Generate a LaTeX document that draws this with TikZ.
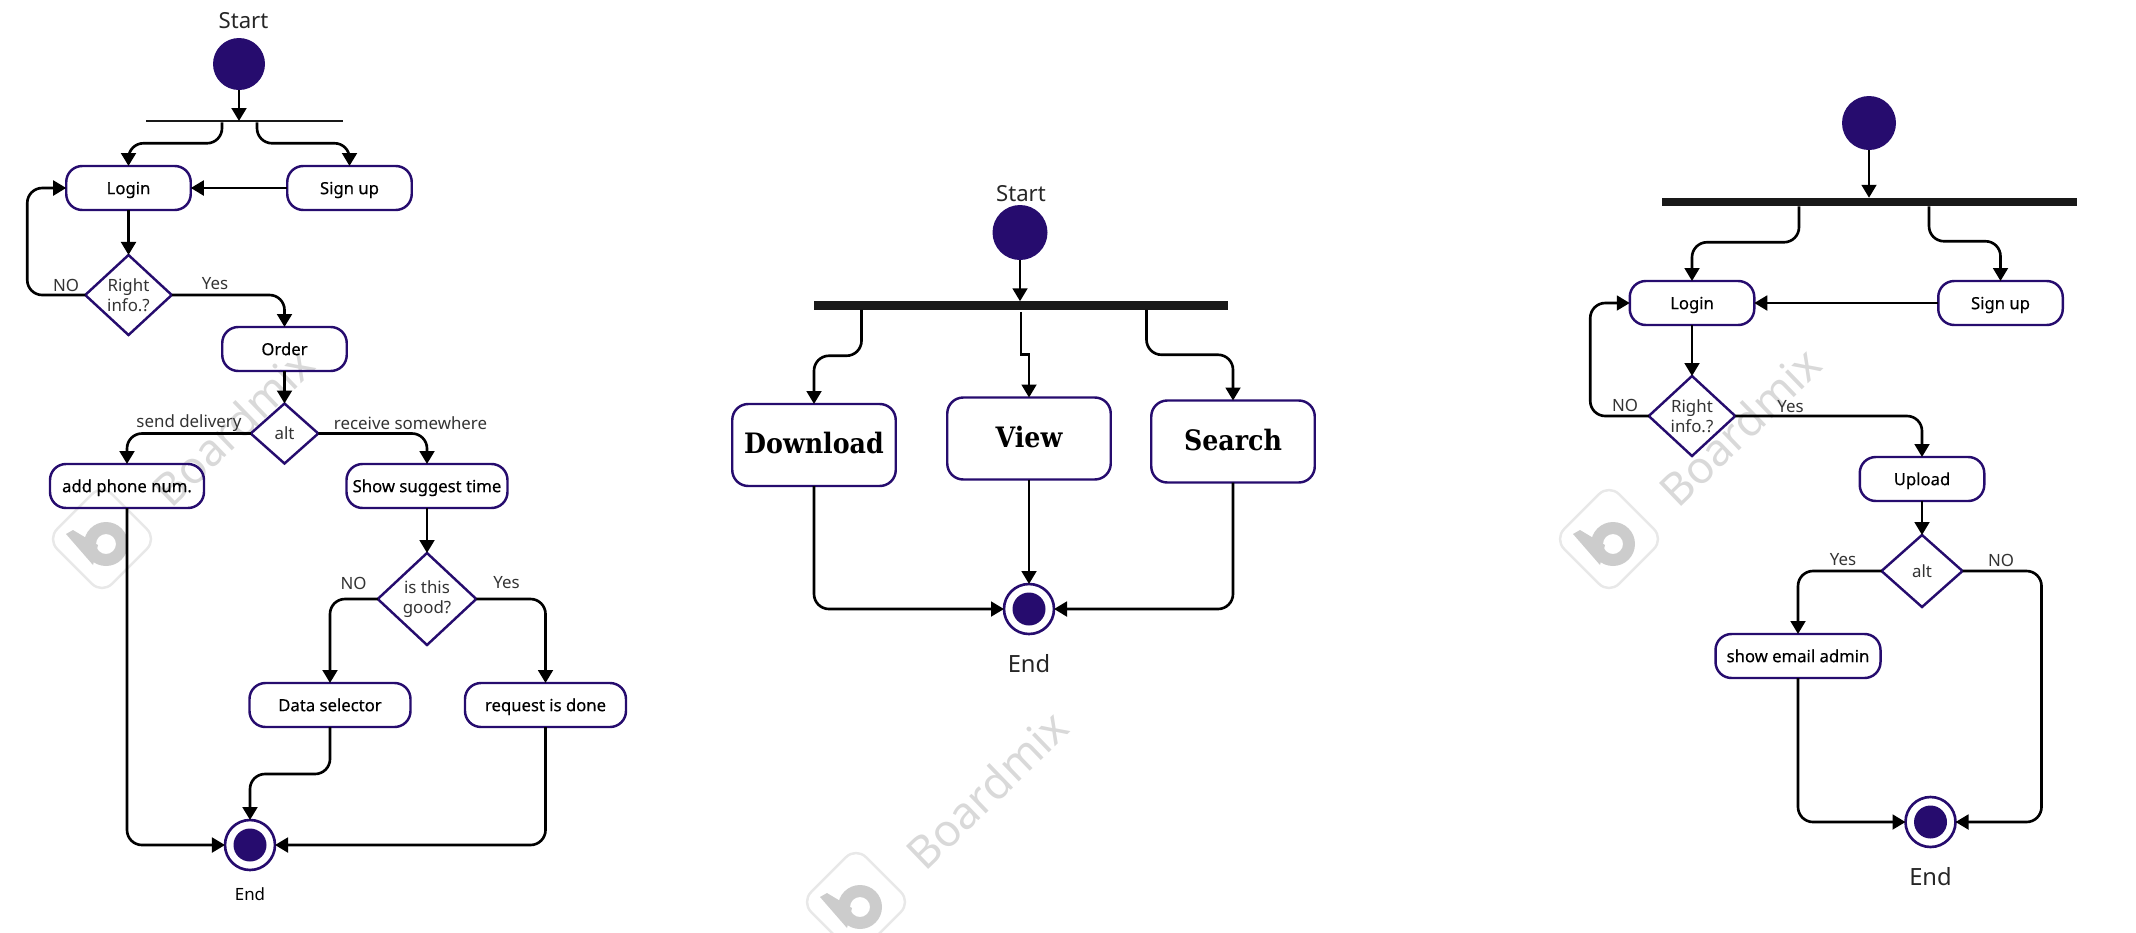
\documentclass[tikz,border=0pt]{standalone}
\usepackage{fontspec}
\setmainfont{Noto Sans}
\newfontfamily\boxfont[FakeBold=0.35]{Noto Sans}
\newfontfamily\slabfont{DejaVu Serif Condensed}
\usepackage{tikz}
\usetikzlibrary{positioning, shapes.geometric, arrows.meta}
\definecolor{ink}{HTML}{260C6E}
\definecolor{markgray}{HTML}{D9D9D9}
\tikzset{S/.style={circle, fill=ink, inner sep=0pt, outer sep=0pt, minimum size=1.08cm}}
\tikzset{Z/.style={circle, draw=ink, line width=1.5pt, inner sep=0pt, outer sep=0pt, minimum size=1cm,
    path picture={\fill[ink] (path picture bounding box.center) circle (0.33);}}}
\tikzset{A/.style={draw=ink, line width=1.4pt, rounded corners=0.32cm, inner sep=0pt, outer sep=0pt,
    minimum width=2.49cm, minimum height=0.88cm, text height=7.2pt, text depth=0.2pt, font=\boxfont\fontsize{9.5}{12}\selectfont}}
\tikzset{W/.style={A, minimum width=3.27cm, minimum height=1.64cm, text height=12pt, text depth=2pt, font=\slabfont\bfseries\fontsize{16}{18}\selectfont}}
\tikzset{Q/.style={draw=ink, line width=1.4pt, diamond, inner sep=0pt, outer sep=0pt, align=center,
    minimum width=1.73cm, minimum height=1.6cm, text=black!80, font=\fontsize{9.6}{11.4}\selectfont}}
\tikzset{F/.style={fill=black!90, inner sep=0pt, outer sep=0pt, minimum width=8.29cm, minimum height=0.17cm}}
\tikzset{T/.style={text=black!80, inner sep=0pt, font=\fontsize{9.6}{11}\selectfont}}
\tikzset{H/.style={text=black!85, inner sep=0pt, font=\fontsize{12.6}{14}\selectfont}}
\tikzset{E/.style={draw, line width=1.5pt, -{Triangle[length=7.4pt, width=8.4pt]}}}
\tikzset{R/.style={E, rounded corners=0.3cm}}

\begin{document}
\begin{tikzpicture}[node distance=1cm and 1cm, on grid]
        \useasboundingbox (0,0) rectangle (42.72,-18.64);
        %% Watermarks
        \foreach \i/\lx/\ly in {1/2.04/-10.78, 2/17.12/-18.04, 3/32.18/-10.78} {
            \node[draw=black!9, line width=1.4pt, rotate=45, rounded corners=0.28cm, minimum size=1.55cm] (wl\i) at (\lx,\ly) {};
            \fill[black!20] ([shift={(-0.72,0.1)}]wl\i.center) -- ++(0.14,0.08) -- ++(0.5,-0.3) -- ++(-0.1,-0.4) -- cycle;
            \fill[black!20, even odd rule] ([shift={(0.08,-0.1)}]wl\i.center) circle (0.44) circle (0.2);
            \node[rotate=44, text=markgray, font=\fontsize{25.5}{30}\selectfont, above right=2.24 and 2.62 of wl\i] (wt\i) {Boardmix};
        }
        %% Left chart
        \node[S, minimum size=1.04cm] (start1) at (4.78,-1.28) {};
        \node[H, above right=0.86 and 0.09 of start1] (lblstart1) {Start};
        \node[F, minimum width=3.94cm, minimum height=0.05cm, below right=1.14 and 0.1 of start1] (fork1) {};
        \node[A, below left=1.34 and 2.31 of fork1] (login1) {Login};
        \node[A, right=4.42 of login1] (signup1) {Sign up};
        \node[Q, below=2.14 of login1] (right1) {Right\\info.?};
        \node[A, below right=1.08 and 3.12 of right1] (order1) {Order};
        \node[Q, minimum width=1.35cm, minimum height=1.2cm, below=1.69 of order1] (alt1) {alt};
        \node[A, minimum width=3.08cm, below left=1.05 and 3.15 of alt1] (phone1) {add phone num.};
        \node[A, minimum width=3.22cm, below right=1.05 and 2.85 of alt1] (show1) {Show suggest time};
        \node[Q, minimum width=1.97cm, minimum height=1.84cm, below=2.26 of show1] (good1) {is this\\good?};
        \node[A, minimum width=3.22cm, below left=2.12 and 1.94 of good1] (data1) {Data selector};
        \node[A, minimum width=3.22cm, right=4.31 of data1] (done1) {request is done};
        \node[Z, below left=2.8 and 1.6 of data1] (end1) {};
        \node[T, text=black, below=0.99 of end1] (lblend1) {End};
        \node[T, above left=0.2 and 1.25 of right1] (no1) {NO};
        \node[T, above right=0.22 and 1.73 of right1] (yes1) {Yes};
        \node[T, above left=0.21 and 1.91 of alt1] (send1) {send delivery};
        \node[T, above right=0.21 and 2.52 of alt1] (recv1) {receive somewhere};
        \node[T, above left=0.32 and 1.47 of good1] (no2) {NO};
        \node[T, above right=0.32 and 1.59 of good1] (yes2) {Yes};
        \draw[E] (start1) -- (start1 |- fork1);
        \draw[R] ([xshift=-0.44cm]fork1.south) -- ++(0,-0.42) -| (login1.north);
        \draw[R] ([xshift=0.26cm]fork1.south) -- ++(0,-0.42) -| (signup1.north);
        \draw[E] (signup1) -- (login1);
        \draw[E] (login1) -- (right1);
        \draw[R] (right1.west) -- ++(-1.16,0) |- (login1.west);
        \draw[R] (right1.east) -| (order1.north);
        \draw[E] (order1) -- (alt1);
        \draw[R] (alt1.west) -| (phone1.north);
        \draw[R] (alt1.east) -| (show1.north);
        \draw[E] (show1) -- (good1);
        \draw[R] (good1.west) -| (data1.north);
        \draw[R] (good1.east) -| (done1.north);
        \draw[R] (data1.south) -- ++(0,-0.94) -| (end1.north);
        \draw[R] (phone1.south) |- (end1.west);
        \draw[R] (done1.south) |- (end1.east);
        %% Middle chart
        \node[S, minimum size=1.1cm] (start2) at (20.4,-4.65) {};
        \node[H, above right=0.77 and 0.02 of start2] (lblstart2) {Start};
        \node[F, below right=1.46 and 0.02 of start2] (fork2) {};
        \node[W, below left=2.79 and 4.14 of fork2] (down2) {Download};
        \node[W, below right=2.66 and 0.16 of fork2] (view2) {View};
        \node[W, below right=2.72 and 4.24 of fork2] (search2) {Search};
        \node[Z, below=3.41 of view2] (end2) {};
        \node[H, font=\fontsize{13.5}{16}\selectfont, below=1.1 of end2] (lblend2) {End};
        \draw[E] (start2) -- (start2 |- fork2.north);
        \draw[R] ([xshift=-3.19cm]fork2.south) -- ++(0,-0.92) -| (down2.north);
        \draw[E] ([yshift=-0.04cm]fork2.south) -- ++(0,-0.85) -| (view2.north);
        \draw[R] ([xshift=2.51cm]fork2.south) -- ++(0,-0.9) -| (search2.north);
        \draw[E] (view2) -- (end2);
        \draw[R] (down2.south) |- (end2.west);
        \draw[R] (search2.south) |- (end2.east);
        %% Right chart
        \node[S] (start3) at (37.38,-2.46) {};
        \node[F, minimum width=8.3cm, below=1.58 of start3] (fork3) {};
        \node[A, below left=2.02 and 3.54 of fork3] (login3) {Login};
        \node[A, right=6.17 of login3] (signup3) {Sign up};
        \node[Q, below=2.26 of login3] (right3) {Right\\info.?};
        \node[A, below right=1.26 and 4.6 of right3] (upload3) {Upload};
        \node[Q, minimum width=1.62cm, minimum height=1.44cm, below=1.84 of upload3] (alt3) {alt};
        \node[A, minimum width=3.3cm, below left=1.7 and 2.48 of alt3] (email3) {show email admin};
        \node[Z, below right=3.32 and 2.65 of email3] (end3) {};
        \node[H, font=\fontsize{13.5}{16}\selectfont, below=1.1 of end3] (lblend3) {End};
        \node[T, above left=0.22 and 1.34 of right3] (no3) {NO};
        \node[T, above right=0.18 and 1.97 of right3] (yes3) {Yes};
        \node[T, above left=0.22 and 1.58 of alt3] (yes4) {Yes};
        \node[T, above right=0.22 and 1.58 of alt3] (no4) {NO};
        \draw[E] (start3) -- (start3 |- fork3.north);
        \draw[R] ([xshift=-1.4cm]fork3.south) -- ++(0,-0.72) -| (login3.north);
        \draw[R] ([xshift=1.2cm]fork3.south) -- ++(0,-0.7) -| (signup3.north);
        \draw[E] (signup3) -- (login3);
        \draw[E] (login3) -- (right3);
        \draw[R] (right3.west) -- ++(-1.17,0) |- (login3.west);
        \draw[R] (right3.east) -| (upload3.north);
        \draw[E] (upload3) -- (alt3);
        \draw[R] (alt3.west) -| (email3.north);
        \draw[R] (alt3.east) -- ++(1.58,0) |- (end3.east);
        \draw[R] (email3.south) |- (end3.west);
\end{tikzpicture}
\end{document}
